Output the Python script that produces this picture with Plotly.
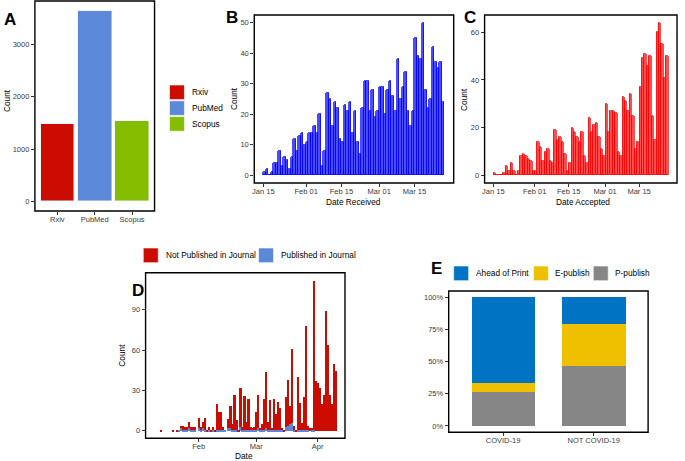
import plotly.graph_objects as go
import pandas as pd

W, H = 685, 461
def px(x): return x / W
def py(y): return 1 - y / H

FONT = "Liberation Sans, Arial, sans-serif"
TICK_COL = "#3a3a3a"

# ---------------- Panel A ----------------
sources = ["Rxiv", "PubMed", "Scopus"]
source_counts = [1470, 3640, 1530]
source_colors = ["#CC0C00", "#5C88DA", "#84BD00"]

# ---------------- Panel B ----------------
received_start = "2020-01-15"
received_counts = [1, 2, 0, 1, 4, 4, 8, 3, 6, 5,
                   2, 6, 12, 8, 13, 14, 10, 11, 14, 14,
                   16, 14, 20, 3, 8, 27, 25, 16, 24, 22,
                   12, 11, 23, 21, 24, 14, 21, 11, 7, 22,
                   31, 31, 21, 28, 19, 21, 29, 29, 20, 28,
                   31, 26, 21, 38, 25, 29, 34, 21, 16, 21,
                   45, 39, 38, 50, 28, 22, 25, 42, 37, 35,
                   37, 24]

# ---------------- Panel C ----------------
accepted_start = "2020-01-15"
accepted_counts = [1, 0, 0, 0, 1, 4, 2, 5, 2, 0, 2, 8, 9, 8, 7, 6, 2,
                   2, 14, 12, 6, 10, 11, 6, 5, 19, 15, 16, 14, 9, 2, 5, 20, 18,
                   16, 14, 18, 8, 5, 24, 18, 21, 22, 16, 11, 8,
                   30, 18, 27, 27, 26, 10, 8, 33, 31, 27, 34, 25, 11, 14, 37, 49,
                   51, 46, 50, 25, 15, 60, 64, 55, 41, 50]

date_ticks = ["2020-01-15", "2020-02-01", "2020-02-15", "2020-03-01", "2020-03-15"]
date_tick_labels = ["Jan 15", "Feb 01", "Feb 15", "Mar 01", "Mar 15"]

# ---------------- Panel D ----------------
d_start = "2020-01-10"
not_published = [0, 0, 0, 1, 0, 0, 0, 0, 0, 1, 0, 1, 0, 2, 3, 2, 2, 5, 2, 2, 2, 0,
                  8, 2, 5, 9, 1, 2, 1, 2, 1, 19, 13, 13, 2, 0, 0, 7, 17, 4, 26, 7, 1, 29, 2, 25, 6, 23, 2, 1, 2,
                  13, 25, 1, 4, 23, 42, 6, 22, 1, 23, 12, 21, 16, 1, 1, 22, 34, 14, 55, 3, 1, 39, 20, 5, 24, 77, 3, 2, 1, 111, 37,
                  36, 32, 20, 27, 89, 64, 27, 20, 50, 45]
published = [0, 0, 0, 0, 0, 0, 0, 0, 0, 0, 0, 0, 1, 2, 1, 1, 1, 2, 1, 1, 1, 0,
             2, 1, 2, 1, 0, 1, 0, 1, 0, 1, 1, 1, 1, 1, 0, 2, 2, 1, 1, 1, 0, 3, 1, 1, 1, 1, 1, 1, 1,
             1, 2, 1, 1, 1, 2, 1, 1, 1, 1, 1, 1, 1, 1, 0, 3, 4, 5, 6, 1, 0, 1, 1, 1, 1, 1, 1, 0, 1, 1, 0,
             0, 0, 0, 0, 0, 0, 0, 0, 0, 0]
pub_labels = ["Not Published in Journal", "Published in Journal"]
pub_colors = ["#CC0C00", "#5C88DA"]
d_ticks = ["2020-02-01", "2020-03-01", "2020-04-01"]
d_tick_labels = ["Feb", "Mar", "Apr"]

# ---------------- Panel E ----------------
groups = ["COVID-19", "NOT COVID-19"]
pub_types = ["Ahead of Print", "E-publish", "P-publish"]
pub_type_colors = ["#0073C2", "#EFC000", "#868686"]
share_ahead = [0.67, 0.21]
share_epub = [0.07, 0.32]
share_ppub = [0.26, 0.47]
pct_ticks = [0, 0.25, 0.5, 0.75, 1.0]
pct_labels = ["0%", "25%", "50%", "75%", "100%"]

DAY = 86400000

fig = go.Figure()

# A
fig.add_trace(go.Bar(x=sources, y=source_counts, marker_color=source_colors,
                     width=0.9, xaxis="x", yaxis="y", showlegend=False))

# B
rec_dates = pd.date_range(received_start, periods=len(received_counts), freq="D")
fig.add_trace(go.Bar(x=rec_dates, y=received_counts, width=DAY,
                     xperiod=DAY, xperiodalignment="middle",
                     marker=dict(color="rgba(0,0,255,0.7)", line=dict(color="rgb(0,0,255)", width=0.7)),
                     xaxis="x2", yaxis="y2", showlegend=False))

# C
acc_dates = pd.date_range(accepted_start, periods=len(accepted_counts), freq="D")
fig.add_trace(go.Bar(x=acc_dates, y=accepted_counts, width=DAY,
                     xperiod=DAY, xperiodalignment="middle",
                     marker=dict(color="rgba(255,0,0,0.7)", line=dict(color="rgb(255,0,0)", width=0.7)),
                     xaxis="x3", yaxis="y3", showlegend=False))

# D (blue at bottom, red stacked on top)
d_dates = pd.date_range(d_start, periods=len(not_published), freq="D")
fig.add_trace(go.Bar(x=d_dates, y=published, width=0.9 * DAY, marker_color=pub_colors[1],
                     marker_line_width=0, xaxis="x4", yaxis="y4", showlegend=False))
fig.add_trace(go.Bar(x=d_dates, y=not_published, width=0.9 * DAY, marker_color=pub_colors[0],
                     marker_line_width=0, xaxis="x4", yaxis="y4", showlegend=False))

# E (P-publish bottom, E-publish, Ahead of Print top)
for vals, col in [(share_ppub, pub_type_colors[2]), (share_epub, pub_type_colors[1]),
                  (share_ahead, pub_type_colors[0])]:
    fig.add_trace(go.Bar(x=groups, y=vals, width=0.7, marker_color=col, marker_line_width=0,
                         xaxis="x5", yaxis="y5", showlegend=False))

frame = dict(showline=False, showgrid=False, zeroline=False, ticks="outside", ticklen=3, tickwidth=1,
             tickcolor="#333333", tickfont=dict(size=7.5, color=TICK_COL, family=FONT))

def ax(**kw):
    d = dict(frame)
    d.update(kw)
    return d

XS = dict(ticklabelstandoff=-2)

layout = dict(
    width=W, height=H, autosize=False,
    margin=dict(l=0, r=0, t=0, b=0),
    paper_bgcolor="white", plot_bgcolor="white",
    barmode="stack", bargap=0,
    font=dict(family=FONT, color="black"),
    xaxis=ax(domain=[px(33), px(153)], anchor="y", type="category", range=[-0.6, 2.6], **XS),
    yaxis=ax(domain=[py(211), py(1)], anchor="x", range=[-182, 3822], tickvals=[0, 1000, 2000, 3000]),
    xaxis2=ax(domain=[px(253), px(453)], anchor="y2", type="date",
              range=["2020-01-11 09:36", "2020-03-30 14:24"], tickvals=date_ticks, ticktext=date_tick_labels, **XS),
    yaxis2=ax(domain=[py(183), py(15)], anchor="x2", range=[-2.5, 52.5], tickvals=[0, 10, 20, 30, 40, 50]),
    xaxis3=ax(domain=[px(484), px(677)], anchor="y3", type="date",
              range=["2020-01-11 09:36", "2020-03-30 14:24"], tickvals=date_ticks, ticktext=date_tick_labels, **XS),
    yaxis3=ax(domain=[py(183), py(15)], anchor="x3", range=[-3.2, 67.2], tickvals=[0, 20, 40, 60]),
    xaxis4=ax(domain=[px(144), px(344)], anchor="y4", type="date",
              range=["2020-01-05 06:00", "2020-04-14 19:00"], tickvals=d_ticks, ticktext=d_tick_labels, **XS),
    yaxis4=ax(domain=[py(438.3), py(272.7)], anchor="x4", range=[-5.6, 117.6], tickvals=[0, 30, 60, 90]),
    xaxis5=ax(domain=[px(448), px(648)], anchor="y5", type="category", range=[-0.6, 1.6], **XS),
    yaxis5=ax(domain=[py(432.3), py(291)], anchor="x5", range=[-0.05, 1.05],
              tickvals=pct_ticks, ticktext=pct_labels),
)
fig.update_layout(**layout)

ann = []
shapes = []

# panel frames
for xa, ya in [("x", "y"), ("x2", "y2"), ("x3", "y3"), ("x4", "y4"), ("x5", "y5")]:
    shapes.append(dict(type="rect", xref=xa + " domain", yref=ya + " domain", x0=0, x1=1, y0=0, y1=1,
                       line=dict(color="black", width=1.4), fillcolor="rgba(0,0,0,0)", layer="above"))

def text(x, y, s, size=8.3, angle=0, xanchor="center", bold=False, color="black"):
    ann.append(dict(x=px(x), y=py(y), xref="paper", yref="paper", text=("<b>%s</b>" % s) if bold else s,
                    showarrow=False, textangle=angle, xanchor=xanchor, yanchor="middle",
                    font=dict(size=size, color=color, family=FONT)))

def key(x0, y0, x1, y1, col):
    shapes.append(dict(type="rect", xref="paper", yref="paper", x0=px(x0), x1=px(x1), y0=py(y1), y1=py(y0),
                       fillcolor=col, line=dict(width=0.6, color="white")))

# panel letters
text(8, 19, "A", size=17, bold=True)
text(230.5, 17, "B", size=17, bold=True)
text(469, 17, "C", size=17, bold=True)
text(136, 290, "D", size=17, bold=True)
text(436, 268, "E", size=17, bold=True)

# axis titles
text(5, 100, "Count", angle=-90)
text(232.7, 99, "Count", angle=-90)
text(353, 202, "Date Received")
text(463.3, 99, "Count", angle=-90)
text(583, 202, "Date Accepted")
text(120, 355, "Count", angle=-90)
text(243, 455.5, "Date")

# legend A
for i, (lab, col) in enumerate(zip(sources, source_colors)):
    y0 = 85 + i * 15.8
    key(168, y0, 183, y0 + 14.6, col)
    text(189, y0 + 7.3, lab, xanchor="left")

# legend D
key(141.7, 248, 156.7, 262.7, pub_colors[0])
text(162, 255.3, pub_labels[0], xanchor="left")
key(257.3, 248, 272.3, 262.7, pub_colors[1])
text(278.3, 255.3, pub_labels[1], xanchor="left")

# legend E
for x0, xt, lab, col in zip([453, 533, 593], [473, 553, 613], pub_types, pub_type_colors):
    key(x0, 266, x0 + 15, 280.7, col)
    text(xt, 273.3, lab, xanchor="left")

fig.update_layout(annotations=ann, shapes=shapes)
fig.write_html("out.html", config={"displayModeBar": False},
               post_script="document.body.style.margin='0px';document.body.style.overflow='hidden';")
